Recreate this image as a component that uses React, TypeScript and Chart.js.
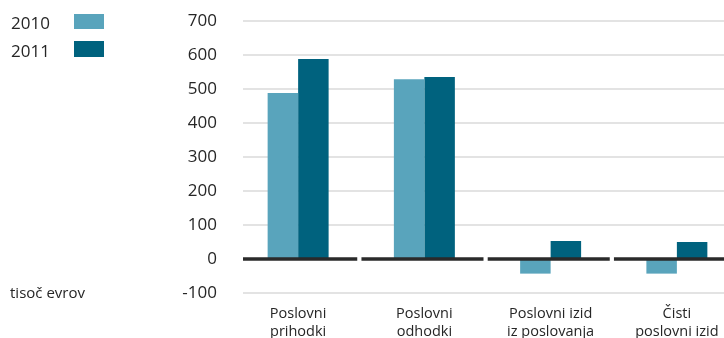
import React, { useEffect, useRef } from "react";
import { Chart, registerables } from "chart.js";

Chart.register(...registerables);

const categories: string[][] = [
  ["Poslovni", "prihodki"],
  ["Poslovni", "odhodki"],
  ["Poslovni izid", "iz poslovanja"],
  ["Čisti", "poslovni izid"],
];
const seriesNames = ["2010", "2011"];
const values2010 = [488, 529, -43, -43];
const values2011 = [588, 535, 53, 50];
const seriesColors = ["#59a4bc", "#00627e"];
const yMin = -100;
const yMax = 700;
const yStep = 100;
const unitLabel = "tisoč evrov";

const FONT = "'Open Sans', 'Noto Sans', sans-serif";
const TEXT = "#262626";

const gridPlugin = {
  id: "customGrid",
  beforeDatasetsDraw(chart: any) {
    const { ctx, chartArea, scales } = chart;
    const y = scales.y;
    ctx.save();
    ctx.strokeStyle = "#dadada";
    ctx.lineWidth = 1.6;
    y.ticks.forEach((t: any) => {
      if (t.value === 0) return;
      const py = y.getPixelForValue(t.value);
      ctx.beginPath();
      ctx.moveTo(chartArea.left + 8, py);
      ctx.lineTo(chartArea.right, py);
      ctx.stroke();
    });
    ctx.restore();
  },
};

const zeroPlugin = {
  id: "zeroLine",
  afterDatasetsDraw(chart: any) {
    const { ctx, chartArea, scales } = chart;
    const x = scales.x;
    const y = scales.y;
    const py = y.getPixelForValue(0);
    const w = (chartArea.right - chartArea.left) / categories.length;
    ctx.save();
    ctx.strokeStyle = "#2a2a2a";
    ctx.lineWidth = 3.5;
    categories.forEach((_, i) => {
      const c = x.getPixelForValue(i);
      const l = Math.max(c - w / 2 + 0.2, chartArea.left + 8);
      const r = c + w / 2 - 4;
      ctx.beginPath();
      ctx.moveTo(l, py);
      ctx.lineTo(r, py);
      ctx.stroke();
    });
    ctx.restore();
  },
};

export default function App() {
  const ref = useRef<HTMLCanvasElement | null>(null);

  useEffect(() => {
    if (!ref.current) return;
    const chart = new Chart(ref.current, {
      type: "bar",
      data: {
        labels: categories,
        datasets: [
          {
            label: seriesNames[0],
            data: values2010,
            backgroundColor: seriesColors[0],
            borderWidth: 0,
            categoryPercentage: 0.483,
            barPercentage: 1,
          },
          {
            label: seriesNames[1],
            data: values2011,
            backgroundColor: seriesColors[1],
            borderWidth: 0,
            categoryPercentage: 0.483,
            barPercentage: 1,
          },
        ],
      },
      options: {
        responsive: false,
        animation: false,
        layout: { padding: { top: 21, left: 0, right: 0, bottom: 0 } },
        plugins: { legend: { display: false }, tooltip: { enabled: false } },
        scales: {
          x: {
            grid: { display: false, drawTicks: false },
            border: { display: false },
            ticks: {
              color: TEXT,
              font: { family: FONT, size: 14.5, lineHeight: 1.22 },
              padding: 12,
              maxRotation: 0,
              autoSkip: false,
            },
            afterFit(scale: any) {
              scale.height = 45;
              scale.paddingLeft = 0;
              scale.paddingRight = 0;
            },
          },
          y: {
            min: yMin,
            max: yMax,
            grid: { display: false, drawTicks: false },
            border: { display: false },
            ticks: {
              stepSize: yStep,
              color: TEXT,
              font: { family: FONT, size: 17 },
              padding: 18,
            },
            afterFit(scale: any) {
              scale.width = 235;
              scale.paddingTop = 0;
              scale.paddingBottom = 0;
            },
          },
        },
      },
      plugins: [gridPlugin, zeroPlugin],
    });
    return () => chart.destroy();
  }, []);

  const textStyle: React.CSSProperties = {
    position: "absolute",
    fontFamily: FONT,
    color: TEXT,
    whiteSpace: "nowrap",
    margin: 0,
  };

  return (
    <div
      style={{
        position: "fixed",
        left: 0,
        top: 0,
        width: 724,
        height: 338,
        overflow: "hidden",
        background: "#fff",
      }}
    >
      <canvas ref={ref} width={740} height={338} style={{ width: 740, height: 338, display: "block" }} />
      {seriesNames.map((name, i) => (
        <React.Fragment key={name}>
          <div style={{ ...textStyle, left: 11, top: i === 0 ? 14.2 : 41.6, fontSize: 17, lineHeight: "17px" }}>{name}</div>
          <div
            style={{
              position: "absolute",
              left: 74,
              top: i === 0 ? 14 : 41,
              width: 30,
              height: i === 0 ? 15 : 16,
              background: seriesColors[i],
            }}
          />
        </React.Fragment>
      ))}
      <div style={{ ...textStyle, left: 10, top: 284.7, fontSize: 15, lineHeight: "15px" }}>{unitLabel}</div>
    </div>
  );
}
